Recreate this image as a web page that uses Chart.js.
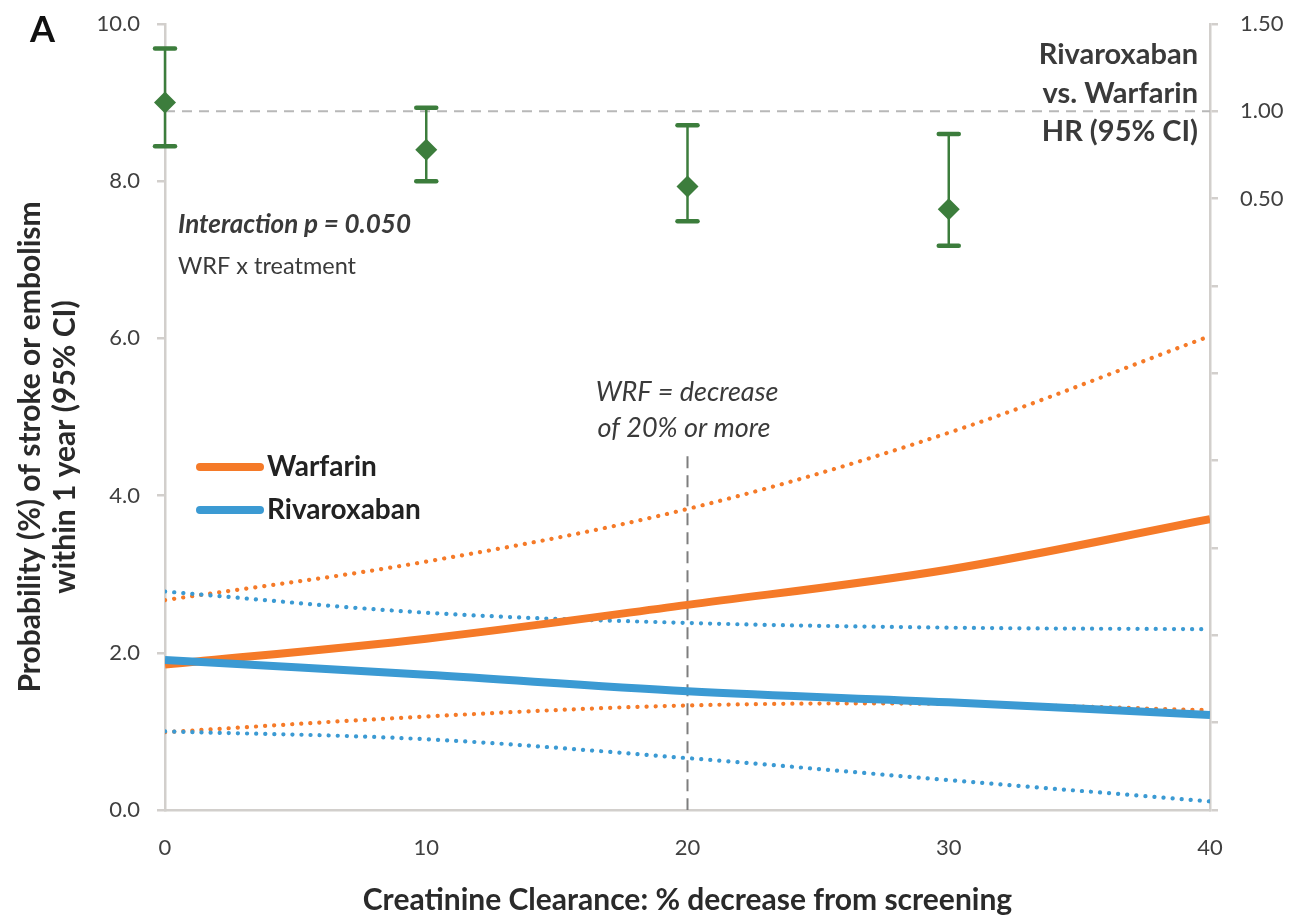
<!DOCTYPE html>
<html>
<head>
<meta charset="utf-8">
<script src="https://cdn.jsdelivr.net/npm/chart.js@4.4.1/dist/chart.umd.min.js"></script>
<style>
  html, body { margin: 0; padding: 0; background: #ffffff; }
  #wrap { width: 1292px; height: 918px; position: relative; }
</style>
</head>
<body>
<div id="wrap"><canvas id="chart" width="1292" height="918"></canvas></div>
<script>
// Creatinine clearance decrease from screening (%)
const decreasePct = [0, 10, 20, 30, 40];

// One-year probability (%) of stroke or systemic embolism with 95% CI
const warfarinRisk    = [1.85, 2.18, 2.61, 3.06, 3.70];
const warfarinUpper   = [2.67, 3.16, 3.83, 4.80, 6.03];
const warfarinLower   = [0.99, 1.19, 1.33, 1.35, 1.27];
const rivaroxabanRisk  = [1.91, 1.72, 1.51, 1.37, 1.21];
const rivaroxabanUpper = [2.78, 2.51, 2.38, 2.32, 2.30];
const rivaroxabanLower = [1.00, 0.90, 0.66, 0.38, 0.11];

// Rivaroxaban vs. warfarin hazard ratio with 95% CI
const hrPct       = [0, 10, 20, 30];
const hazardRatio = [1.05, 0.78, 0.57, 0.44];
const hrLower     = [0.80, 0.60, 0.37, 0.23];
const hrUpper     = [1.36, 1.02, 0.92, 0.87];

// Axis ticks
const xTicks      = [0, 10, 20, 30, 40];
const riskTicks   = [0, 2, 4, 6, 8, 10];
const hrTickShown = [0.5, 1.0, 1.5];

// Reference lines
const hrReference   = 1.0;  // HR = 1
const wrfThreshold  = 20;   // WRF cut-off (% decrease)
const wrfLineTop    = 4.5;  // top of the WRF marker, risk-axis units

const ORANGE = '#F57A28';
const BLUE   = '#3B9AD3';
const GREEN  = '#3C7D3C';
const AXIS   = '#D2CFCC';
const TEXT   = '#3A3A3A';
const FONT   = 'Lato, "Open Sans", sans-serif';

const pts = (xs, ys) => xs.map((x, i) => ({ x: x, y: ys[i] }));

function solid(label, data, color, order) {
  return { type: 'line', label, data: pts(decreasePct, data), yAxisID: 'y',
    borderColor: color, backgroundColor: color, borderWidth: 8,
    borderCapStyle: 'butt', pointRadius: 0, tension: 0.35, order };
}
function dotted(label, data, color, order) {
  return { type: 'line', label, data: pts(decreasePct, data), yAxisID: 'y',
    borderColor: color, backgroundColor: color, borderWidth: 4.2,
    borderDash: [0.1, 9], borderCapStyle: 'round', pointRadius: 0,
    tension: 0.35, order };
}

// Vertical axes: no extra room reserved for the end labels
const noEndPadding = s => { s.paddingTop = 0; s.paddingBottom = 0; };

// Dashed reference lines and HR confidence whiskers, under the markers
const underlay = {
  id: 'underlay',
  beforeDatasetsDraw(chart) {
    const { ctx, chartArea: a, scales } = chart;
    const x = scales.x, y = scales.y, yr = scales.yHR;
    ctx.save();
    // HR = 1 line
    ctx.strokeStyle = '#B8B8B8';
    ctx.lineWidth = 2;
    ctx.setLineDash([10, 7]);
    const yRef = yr.getPixelForValue(hrReference);
    ctx.beginPath(); ctx.moveTo(a.left, yRef); ctx.lineTo(a.right, yRef); ctx.stroke();
    // WRF threshold
    ctx.strokeStyle = '#7E7E7E';
    ctx.setLineDash([12, 7]);
    const xw = x.getPixelForValue(wrfThreshold);
    ctx.beginPath(); ctx.moveTo(xw, y.getPixelForValue(wrfLineTop)); ctx.lineTo(xw, a.bottom); ctx.stroke();
    ctx.setLineDash([]);
    // whiskers
    ctx.strokeStyle = GREEN;
    hrPct.forEach((p, i) => {
      const px = x.getPixelForValue(p);
      const yl = yr.getPixelForValue(hrLower[i]);
      const yu = yr.getPixelForValue(hrUpper[i]);
      ctx.lineWidth = 2.5; ctx.lineCap = 'butt';
      ctx.beginPath(); ctx.moveTo(px, yl); ctx.lineTo(px, yu); ctx.stroke();
      ctx.lineWidth = 4.5; ctx.lineCap = 'round';
      ctx.beginPath(); ctx.moveTo(px - 10, yl); ctx.lineTo(px + 10, yl); ctx.stroke();
      ctx.beginPath(); ctx.moveTo(px - 10, yu); ctx.lineTo(px + 10, yu); ctx.stroke();
    });
    ctx.restore();
  }
};

// Panel letter, notes, legend and left axis title
const notes = {
  id: 'notes',
  afterDraw(chart) {
    const { ctx, chartArea: a } = chart;
    ctx.save();
    ctx.textBaseline = 'middle';
    ctx.fillStyle = '#111';
    ctx.textAlign = 'left';
    ctx.font = 'bold 36px ' + FONT;
    ctx.fillText('A', 30, 30);

    ctx.fillStyle = TEXT;
    ctx.font = 'italic bold 26px ' + FONT;
    ctx.fillText('Interaction p = 0.050', a.left + 13, 225);
    ctx.font = '23.5px ' + FONT;
    ctx.fillText('WRF x treatment', a.left + 13, 266);

    ctx.font = 'italic 27px ' + FONT;
    ctx.textAlign = 'center';
    ctx.fillText('WRF = decrease', 687, 392);
    ctx.fillText('of 20% or more', 684, 428);

    ctx.font = 'bold 29px ' + FONT;
    ctx.textAlign = 'right';
    ctx.fillText('Rivaroxaban', 1198, 55);
    ctx.fillText('vs. Warfarin', 1198, 94);
    ctx.fillText('HR (95% CI)', 1198, 132);

    // legend
    const legend = [['Warfarin', ORANGE, 467], ['Rivaroxaban', BLUE, 510]];
    legend.forEach(([t, c, ly]) => {
      ctx.strokeStyle = c; ctx.lineWidth = 8; ctx.lineCap = 'round';
      ctx.beginPath(); ctx.moveTo(200, ly); ctx.lineTo(260, ly); ctx.stroke();
      ctx.fillStyle = '#222';
      ctx.textAlign = 'left';
      ctx.font = 'bold 28px ' + FONT;
      ctx.fillText(t, 267, ly);
    });

    // left axis title
    ctx.translate(0, 447);
    ctx.rotate(-Math.PI / 2);
    ctx.textAlign = 'center';
    ctx.fillStyle = '#2a2a2a';
    ctx.font = 'bold 30px ' + FONT;
    ctx.fillText('Probability (%) of stroke or embolism', 0, 30);
    ctx.fillText('within 1 year (95% CI)', 0, 65);
    ctx.restore();
  }
};

new Chart(document.getElementById('chart'), {
  data: {
    datasets: [
      { type: 'line', label: 'HR', data: pts(hrPct, hazardRatio), yAxisID: 'yHR',
        showLine: false, clip: false, pointStyle: 'rectRot', pointRadius: 11,
        pointBackgroundColor: GREEN, pointBorderColor: GREEN, pointBorderWidth: 0, order: 0 },
      solid('Rivaroxaban', rivaroxabanRisk, BLUE, 1),
      solid('Warfarin', warfarinRisk, ORANGE, 2),
      dotted('Rivaroxaban upper', rivaroxabanUpper, BLUE, 3),
      dotted('Rivaroxaban lower', rivaroxabanLower, BLUE, 3),
      dotted('Warfarin upper', warfarinUpper, ORANGE, 4),
      dotted('Warfarin lower', warfarinLower, ORANGE, 4)
    ]
  },
  options: {
    responsive: false,
    animation: false,
    devicePixelRatio: 1,
    layout: { padding: { top: 24, right: 0, bottom: 0, left: 0 } },
    plugins: { legend: { display: false }, tooltip: { enabled: false } },
    scales: {
      x: {
        type: 'linear', min: 0, max: 40,
        afterBuildTicks: s => { s.ticks = xTicks.map(v => ({ value: v })); },
        ticks: { font: { family: FONT, size: 22 }, color: '#404040', padding: 25, maxRotation: 0 },
        grid: { display: true, drawOnChartArea: false, drawTicks: false, color: AXIS },
        border: { display: true, color: AXIS, width: 2.5 },
        title: { display: true, text: 'Creatinine Clearance: % decrease from screening',
          font: { family: FONT, size: 30, weight: 'bold' }, color: '#2a2a2a', padding: { top: 0, bottom: 0 } },
        afterFit: s => { s.height = 108; s.paddingLeft = 0; s.paddingRight = 0; }
      },
      y: {
        type: 'linear', position: 'left', min: 0, max: 10,
        afterBuildTicks: s => { s.ticks = riskTicks.map(v => ({ value: v })); },
        ticks: { font: { family: FONT, size: 22 }, color: '#404040', padding: 17,
          callback: v => v.toFixed(1) },
        grid: { display: true, drawOnChartArea: false, drawTicks: true, tickLength: 8, color: AXIS, lineWidth: 2.5 },
        border: { display: true, color: AXIS, width: 2.5 },
        afterFit: s => { s.width = 165; noEndPadding(s); }
      },
      yHR: {
        type: 'linear', position: 'right', min: -3, max: 1.5,
        ticks: { stepSize: 0.5, font: { family: FONT, size: 22 }, color: '#404040', padding: 22,
          callback: v => hrTickShown.some(t => Math.abs(t - v) < 1e-9) ? v.toFixed(2) : '' },
        grid: { display: true, drawOnChartArea: false, drawTicks: true, tickLength: 8, color: AXIS, lineWidth: 2.5 },
        border: { display: true, color: AXIS, width: 2.5 },
        afterFit: s => { s.width = 82; noEndPadding(s); }
      }
    }
  },
  plugins: [underlay, notes]
});
</script>
</body>
</html>
